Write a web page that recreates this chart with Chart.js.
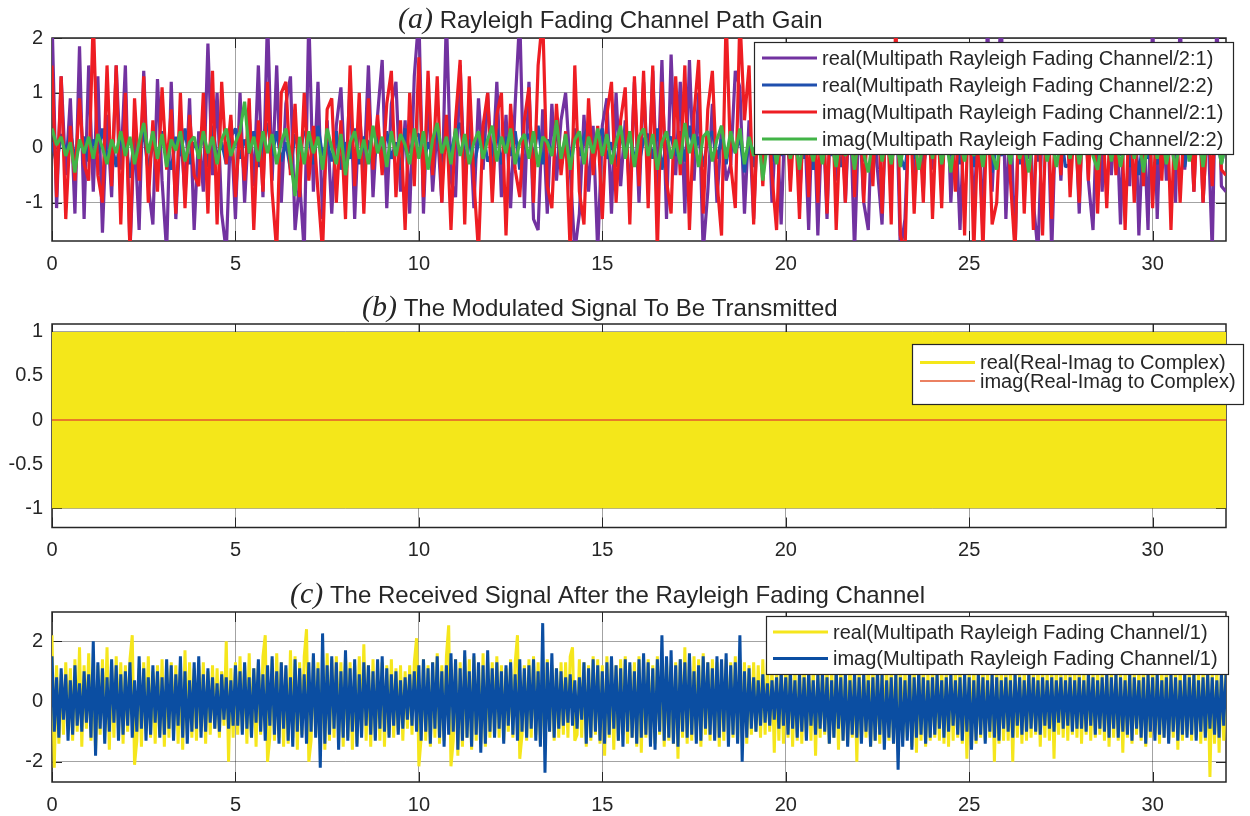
<!DOCTYPE html>
<html>
<head>
<meta charset="utf-8">
<title>Rayleigh fading channel signals</title>
<script src="https://cdn.jsdelivr.net/npm/chart.js@4.4.1/dist/chart.umd.min.js"></script>
<style>
  html, body { margin: 0; padding: 0; background: #ffffff; }
  #page { position: relative; width: 1250px; height: 816px; overflow: hidden; background: #ffffff; }
  canvas { position: absolute; left: 0; }
</style>
</head>
<body>
<div id="page">
  <canvas id="chartA" width="1250" height="272" style="top:0px"></canvas>
  <canvas id="chartB" width="1250" height="290" style="top:272px"></canvas>
  <canvas id="chartC" width="1250" height="254" style="top:562px"></canvas>
</div>
<script>
// ---------- shared axis values ----------
const xTicks = [0, 5, 10, 15, 20, 25, 30];
const xMax = 32;

// ---------- (a) channel path gains, one sample every 0.125 ----------
const stepA = 0.125;
const yTicksA = [-1, 0, 1, 2];
const realA1 = [ // real(.../2:1)
  2.4,-1.1,1.3,-0.5,0.9,-1.2,1.85,-1.3,
  1.5,-0.8,1.3,-1.55,0.6,-0.9,1.5,-0.4,
  1.5,-1.9,0.3,-1.5,1.4,-0.7,-1.4,1.25,
  -0.6,-1.9,1.2,-1.3,0.4,-0.9,0.9,-1.5,
  0.3,-0.8,1.9,-0.5,1.0,-1.2,-1.9,0.5,
  -1.3,1.0,-1.0,0.6,-0.7,1.5,-0.9,2.4,
  -0.6,1.5,-1.0,0.8,1.3,-1.5,-0.6,-1.9,
  2.4,-0.8,1.2,-1.3,0.5,-1.2,0.4,1.1,
  -0.7,1.2,-1.3,0.7,-0.5,1.5,-0.9,0.6,
  1.6,-1.1,0.8,1.2,-0.8,0.5,-1.2,1.3,
  2.4,-1.2,1.0,-0.8,0.4,-1.0,2.4,-0.6,
  -0.9,1.5,-0.7,0.6,-1.1,0.9,-0.4,1.0,
  -0.5,1.2,-0.9,0.6,-1.1,0.8,2.4,-1.1,
  1.2,-1.3,-1.5,0.7,-1.2,0.8,-0.6,0.5,
  1.0,-0.4,-1.9,-1.2,0.6,-0.8,0.4,-1.9,
  0.4,0.9,-1.2,1.0,-0.7,0.5,-0.9,1.2,
  -1.0,1.2,-0.6,1.4,-0.8,1.6,-1.3,1.7,
  -0.5,1.2,-1.2,1.6,-0.6,1.0,-1.9,-0.8,
  0.8,-1.0,0.4,-0.6,-0.3,1.4,1.1,-1.2,
  0.5,-1.3,0.9,-0.5,1.2,-1.0,0.6,-1.4,
  1.0,-0.6,1.3,-1.0,0.7,-1.5,1.1,-1.6,
  0.8,-1.3,1.2,-0.6,1.5,-1.0,0.9,-1.9,
  0.7,-1.0,-1.5,1.2,-0.4,-1.4,1.0,-0.6,
  1.3,-1.9,-1.3,0.9,-0.6,1.1,-0.8,1.4,
  -0.4,1.0,-0.7,1.5,-1.0,0.6,-1.5,0.8,
  1.2,-1.3,0.7,-1.6,2.4,-0.8,1.0,2.4,
  -1.3,0.8,-1.9,1.2,-0.5,1.0,-1.0,-1.9,
  0.6,1.1,-1.9,0.9,-0.6,1.3,-0.4,0.8,
  -1.2,1.4,-0.6,-1.5,1.0,-0.8,1.2,-0.5,
  0.9,-1.4,1.1,-0.7,1.5,-1.6,0.6,-1.5,
  2.4,-1.3,1.2,-0.6,0.8,-1.0,2.4,-0.4,
  1.0,-0.8,1.3,-1.0,0.6,-1.9,2.4,-0.7,
  -0.8
];
const realA2 = [ // real(.../2:2)
  0.1,-0.3,0.25,-0.1,0.3,-0.2,0.05,0.2,
  -0.25,0.15,-0.1,0.35,-0.2,0.1,-0.35,0.2,
  0.15,-0.55,0.2,-0.1,0.3,-0.45,0.1,-0.2,
  0.3,-0.1,-0.4,0.2,-0.15,0.35,-0.3,0.1,
  -0.1,0.25,-0.35,0.4,-0.2,0.1,-0.3,0.2,
  0.35,-0.2,0.15,-0.1,0.3,-0.35,0.2,0.45,
  -0.15,0.3,-0.25,0.1,-0.4,0.25,-0.1,0.3,
  0.2,-0.3,0.4,-0.15,0.1,-0.25,0.3,-0.4,
  0.1,-0.2,0.35,-0.3,0.2,0.1,-0.35,0.25,
  -0.15,0.3,-0.2,0.1,-0.4,0.35,-0.1,0.2,
  0.25,-0.3,0.1,-0.15,0.35,-0.25,0.2,-0.1,
  0.3,0.45,-0.2,0.15,-0.35,0.1,0.3,-0.25,
  -0.1,0.35,-0.3,0.2,-0.15,0.3,-0.4,0.1,
  0.25,-0.2,0.4,-0.3,0.15,-0.1,0.3,-0.35,
  0.1,-0.25,0.35,-0.15,0.2,0.4,-0.3,0.15,
  0.35,-0.2,0.1,-0.35,0.25,-0.1,0.3,-0.2,
  -0.3,0.15,0.25,-0.2,0.35,-0.4,0.1,0.2,
  -0.15,0.3,-0.25,0.4,-0.1,0.2,-0.35,0.15,
  0.3,-0.2,0.15,-0.3,0.25,-0.1,0.2,-0.45,
  0.15,-0.35,0.3,-0.1,0.2,-0.25,0.35,-0.15,
  0.2,-0.3,0.1,0.35,-0.2,0.25,-0.4,0.1,
  -0.25,0.3,-0.15,0.2,-0.35,0.1,0.3,-0.2,
  0.15,-0.25,0.35,-0.45,0.2,-0.1,0.3,-0.3,
  0.25,-0.15,-0.4,0.3,-0.2,0.15,-0.35,0.2,
  -0.1,0.3,-0.25,0.35,-0.15,0.2,-0.3,0.1,
  0.25,-0.35,0.15,-0.2,0.3,-0.45,0.1,-0.15,
  0.3,-0.1,0.2,-0.3,0.25,-0.2,0.35,-0.25,
  0.15,-0.2,0.3,-0.1,0.25,-0.35,-0.3,0.2,
  -0.2,0.35,-0.15,0.25,-0.3,0.1,0.2,-0.25,
  0.3,-0.15,0.2,-0.35,0.15,-0.5,0.25,-0.2,
  0.1,-0.3,0.35,-0.2,0.25,-0.15,0.3,-0.35,
  0.2,-0.25,0.15,-0.3,0.35,-0.1,0.2,-0.3,
  0.1
];
const imagA1 = [ // imag(.../2:1)
  1.5,-0.9,1.3,-1.3,0.4,-0.6,0.9,-0.3,
  -0.6,2.4,-0.5,-1.0,1.5,-0.7,1.5,-1.4,
  1.0,-1.9,0.9,-0.6,1.3,-1.0,0.5,-0.8,
  1.1,-0.4,0.7,-1.2,1.0,-1.1,0.6,-0.5,
  -0.7,1.0,-1.2,1.4,-1.4,1.2,-0.3,0.6,
  -0.9,0.4,-0.6,0.9,-1.5,0.5,-0.8,1.2,
  -0.8,-1.9,1.0,1.2,-0.5,0.8,-0.9,1.0,
  -0.6,0.4,-0.8,-1.9,0.7,0.9,-1.0,0.5,
  -1.3,1.5,-0.7,1.0,-1.2,0.9,-0.4,0.6,
  -0.5,0.8,1.4,-0.9,0.5,-1.5,1.0,-0.7,
  1.65,-0.9,1.4,-0.5,1.3,-1.0,0.6,-1.5,
  0.5,1.6,-1.4,1.3,-0.6,-1.9,0.4,1.0,
  -1.0,0.6,1.0,-1.6,0.8,-0.4,-0.9,0.5,
  1.1,-1.0,1.5,2.4,-0.7,-1.1,0.8,-0.5,
  0.3,-1.9,1.5,-0.8,-1.4,0.9,-0.5,0.4,
  -1.3,0.6,1.2,-1.0,0.5,1.1,-1.4,1.3,
  -0.7,1.4,-1.1,1.5,-1.9,1.2,-0.6,-1.2,
  1.3,-0.5,1.5,-1.5,0.6,1.6,-1.2,0.7,
  1.4,-0.6,-1.6,2.4,-0.3,-1.1,2.4,0.5,
  1.5,-1.4,0.8,-0.7,1.1,-0.5,-1.5,0.9,
  1.2,-0.8,0.7,-1.3,1.0,-0.9,1.3,-1.0,
  1.1,-1.2,1.4,-1.5,0.6,-1.0,1.5,-0.9,
  1.2,-1.0,0.8,-0.7,1.3,-1.2,1.0,-1.4,
  2.4,-1.6,-1.9,1.1,-1.2,0.6,-1.0,1.4,
  -1.3,0.8,-1.1,1.2,0.6,-0.8,1.0,-1.6,
  1.2,-1.9,0.5,-1.9,1.0,-1.4,-1.0,0.8,
  1.1,-0.6,-1.9,1.3,-1.2,0.7,-1.5,1.0,
  -1.6,1.2,-1.3,0.9,-0.5,1.4,-0.9,0.6,
  -1.0,1.1,-0.6,1.3,-1.2,0.8,-1.1,1.0,
  -0.5,1.2,-1.5,0.9,-1.0,1.1,-0.7,1.3,
  -1.1,0.8,-0.6,1.2,-1.5,0.9,-1.0,0.7,
  1.1,-0.8,1.0,-1.0,0.6,-0.7,1.2,-0.4,
  -0.5
];
const imagA2 = [ // imag(.../2:2)
  0.35,0.05,0.2,-0.15,0.1,-0.45,0.15,-0.1,
  0.2,-0.2,0.25,0.0,-0.3,0.15,-0.1,0.3,
  -0.15,0.2,-0.3,0.1,0.45,-0.1,0.3,-0.2,
  0.25,-0.35,0.15,-0.05,0.3,-0.25,0.1,0.2,
  -0.2,0.3,-0.1,0.2,-0.3,0.15,0.35,-0.15,
  0.1,0.3,0.84,-0.1,0.2,-0.25,0.3,-0.1,
  0.25,-0.3,0.1,0.35,-0.2,-0.88,0.2,-0.3,
  0.3,-0.1,0.2,-0.4,0.35,0.0,-0.3,0.25,
  -0.5,0.1,0.3,-0.2,0.15,-0.3,0.4,-0.1,
  0.2,-0.35,0.3,-0.15,0.25,0.05,-0.3,0.35,
  -0.2,0.3,-0.4,0.15,0.45,-0.1,0.2,-0.3,
  0.35,-0.15,0.25,-0.3,0.1,0.3,-0.2,0.15,
  0.4,-0.25,0.2,-0.1,0.35,-0.3,0.1,0.25,
  -0.2,0.3,-0.35,0.2,0.1,-0.15,0.5,-0.2,
  0.25,-0.4,0.15,0.3,-0.3,0.2,-0.1,0.35,
  -0.15,0.25,-0.3,0.1,0.4,-0.2,0.3,-0.35,
  0.2,0.35,-0.15,0.25,-0.4,0.1,0.3,-0.2,
  0.15,-0.3,0.45,-0.1,0.25,-0.35,0.2,0.3,
  -0.25,0.15,0.4,-0.2,0.3,-0.1,0.35,-0.3,
  0.2,-0.15,0.3,-0.6,0.1,0.25,-0.3,0.2,
  0.35,-0.2,0.15,-0.4,0.3,0.1,-0.25,0.2,
  -0.3,0.25,0.1,-0.35,0.3,-0.15,0.2,-0.4,
  0.3,-0.1,-0.45,0.2,0.35,-0.25,0.15,-0.3,
  0.2,-0.35,0.3,-0.1,0.25,-0.4,0.1,0.35,
  -0.2,0.3,-0.3,0.15,-0.45,0.25,0.1,-0.25,
  0.3,-0.15,0.2,-0.35,0.25,-0.1,-0.4,0.3,
  0.15,-0.3,0.35,-0.2,0.1,-0.45,0.25,-0.1,
  0.3,-0.25,0.2,-0.35,0.15,0.3,-0.2,0.25,
  -0.3,0.1,0.35,-0.15,-0.4,0.2,0.3,-0.25,
  0.2,-0.35,0.1,0.3,-0.2,0.25,-0.45,0.15,
  0.3,-0.2,0.25,-0.3,0.1,-0.4,0.2,0.35,
  -0.25,0.15,0.3,-0.35,0.2,-0.1,0.25,-0.3,
  0.1
];

// ---------- (b) modulated signal, one sample every 0.0625 ----------
const stepB = 0.0625;
const yTicksB = [-1, -0.5, 0, 0.5, 1];
const realB = [
  1,-1,1,-1,1,-1,1,-1,1,-1,1,-1,1,-1,1,-1,
  1,-1,1,-1,1,-1,1,-1,1,-1,1,-1,1,-1,1,-1,
  1,-1,1,-1,1,-1,1,-1,1,-1,1,-1,1,-1,1,-1,
  1,-1,1,-1,1,-1,1,-1,1,-1,1,-1,1,-1,1,-1,
  1,-1,1,-1,1,-1,1,-1,1,-1,1,-1,1,-1,1,-1,
  1,-1,1,-1,1,-1,1,-1,1,-1,1,-1,1,-1,1,-1,
  1,-1,1,-1,1,-1,1,-1,1,-1,1,-1,1,-1,1,-1,
  1,-1,1,-1,1,-1,1,-1,1,-1,1,-1,1,-1,1,-1,
  1,-1,1,-1,1,-1,1,-1,1,-1,1,-1,1,-1,1,-1,
  1,-1,1,-1,1,-1,1,-1,1,-1,1,-1,1,-1,1,-1,
  1,-1,1,-1,1,-1,1,-1,1,-1,1,-1,1,-1,1,-1,
  1,-1,1,-1,1,-1,1,-1,1,-1,1,-1,1,-1,1,-1,
  1,-1,1,-1,1,-1,1,-1,1,-1,1,-1,1,-1,1,-1,
  1,-1,1,-1,1,-1,1,-1,1,-1,1,-1,1,-1,1,-1,
  1,-1,1,-1,1,-1,1,-1,1,-1,1,-1,1,-1,1,-1,
  1,-1,1,-1,1,-1,1,-1,1,-1,1,-1,1,-1,1,-1,
  1,-1,1,-1,1,-1,1,-1,1,-1,1,-1,1,-1,1,-1,
  1,-1,1,-1,1,-1,1,-1,1,-1,1,-1,1,-1,1,-1,
  1,-1,1,-1,1,-1,1,-1,1,-1,1,-1,1,-1,1,-1,
  1,-1,1,-1,1,-1,1,-1,1,-1,1,-1,1,-1,1,-1,
  1,-1,1,-1,1,-1,1,-1,1,-1,1,-1,1,-1,1,-1,
  1,-1,1,-1,1,-1,1,-1,1,-1,1,-1,1,-1,1,-1,
  1,-1,1,-1,1,-1,1,-1,1,-1,1,-1,1,-1,1,-1,
  1,-1,1,-1,1,-1,1,-1,1,-1,1,-1,1,-1,1,-1,
  1,-1,1,-1,1,-1,1,-1,1,-1,1,-1,1,-1,1,-1,
  1,-1,1,-1,1,-1,1,-1,1,-1,1,-1,1,-1,1,-1,
  1,-1,1,-1,1,-1,1,-1,1,-1,1,-1,1,-1,1,-1,
  1,-1,1,-1,1,-1,1,-1,1,-1,1,-1,1,-1,1,-1,
  1,-1,1,-1,1,-1,1,-1,1,-1,1,-1,1,-1,1,-1,
  1,-1,1,-1,1,-1,1,-1,1,-1,1,-1,1,-1,1,-1,
  1,-1,1,-1,1,-1,1,-1,1,-1,1,-1,1,-1,1,-1,
  1,-1,1,-1,1,-1,1,-1,1,-1,1,-1,1,-1,1,-1,
  1
];
const imagBTime = [0, 32];
const imagB = [0, 0];

// ---------- (c) received signal, one sample every 0.0625 ----------
const stepC = 0.0625;
const yTicksC = [-2, 0, 2];
const realC = [
  2.2,-2.2,1.2,-1.4,0.9,-1.1,1.3,-0.8,1.1,-1.3,1.4,-1.0,1.8,-1.5,1.2,-0.9,
  1.6,-1.3,1.0,-1.6,1.2,-1.1,1.4,-1.0,1.8,-1.6,1.1,-1.2,1.5,-0.9,1.3,-1.4,
  1.2,-1.0,1.4,2.2,-2.1,-1.3,1.1,-1.5,1.3,-0.9,1.5,-1.2,1.0,-1.4,1.2,-1.1,
  1.4,-1.5,1.1,-1.2,1.3,-1.0,1.2,-1.4,1.0,-1.6,1.7,-1.1,1.3,-1.2,1.1,-1.3,
  1.2,-1.0,1.3,-1.4,1.0,-1.1,1.2,-0.9,1.1,-1.2,1.0,-0.8,2.0,-2.0,1.1,-1.2,
  1.3,-1.1,1.5,-1.0,1.2,-1.4,1.6,-1.2,1.1,-1.5,1.3,-1.1,1.5,2.2,-2.0,-1.2,
  1.4,-1.3,1.6,-1.2,1.3,-1.5,1.1,-1.4,1.7,-1.2,1.5,-1.6,1.3,-1.1,1.5,2.4,
  -2.0,-1.3,1.5,-1.1,1.3,-1.4,1.2,-1.6,1.6,-1.3,1.4,-1.2,1.5,-1.0,1.3,-1.5,
  1.5,-1.2,1.3,-1.6,1.2,-1.4,1.5,-1.1,1.9,-1.3,1.2,-1.5,1.4,-1.2,1.1,-1.3,
  1.3,-1.5,1.2,-1.1,1.4,-1.2,1.1,-1.0,1.2,-1.3,1.0,-0.9,1.2,-1.1,1.3,2.1,
  -2.15,-1.2,1.4,-1.3,1.2,-1.5,1.3,-1.2,1.6,-1.4,1.2,-1.3,1.5,2.53,-2.15,-1.3,
  1.4,-1.8,1.3,-1.5,1.5,-1.2,1.4,-1.6,1.5,-1.3,1.2,-1.4,1.6,-1.5,1.3,-1.2,
  1.3,-1.1,1.5,-1.2,1.2,-1.3,1.1,-1.0,1.4,-1.2,1.3,2.2,-1.9,-1.1,1.2,-1.3,
  1.4,-1.2,1.5,-1.1,1.3,-1.4,1.2,-1.5,1.4,-1.0,1.2,-1.3,1.1,-1.2,1.3,-1.1,
  1.3,-1.2,1.5,1.8,-1.3,-1.1,1.4,-1.2,1.3,-1.5,1.2,-1.3,1.5,-1.1,1.4,-1.4,
  1.2,-1.8,1.5,-1.2,1.3,-1.6,1.2,-1.3,1.4,-1.1,1.5,-1.4,1.2,-1.2,1.3,-1.5,
  1.5,-1.7,1.3,-1.2,1.4,-1.3,1.2,-1.4,1.5,-1.1,1.3,-1.5,1.4,-1.3,1.2,-1.4,
  1.3,-1.9,1.4,-1.2,1.8,-1.4,1.3,-1.3,1.5,-1.2,1.4,-1.5,1.6,-1.1,1.3,-1.3,
  1.4,-1.2,1.3,-1.5,1.2,-1.3,1.4,-1.1,1.3,-1.2,1.5,-1.3,1.4,-1.2,1.3,-1.4,
  1.2,-1.1,1.3,-1.0,1.2,-1.2,1.4,-1.1,1.3,-1.0,1.2,-1.7,1.1,-1.3,1.2,-1.4,
  1.3,-1.2,1.4,-1.5,1.1,-1.3,1.2,-1.4,1.3,-1.2,1.1,-1.3,1.2,-1.8,1.0,-1.2,
  1.3,-1.1,1.2,-1.4,1.1,-1.2,1.3,-1.6,1.2,-1.3,1.1,-1.4,1.3,-1.2,1.2,-2.0,
  1.2,-1.3,1.1,-1.2,1.4,-1.5,1.2,-1.3,1.1,-1.4,1.3,-1.2,1.2,-1.3,1.1,-1.4,
  1.3,-1.4,1.2,-1.3,1.1,-1.2,1.3,-1.5,1.2,-1.7,1.1,-1.3,1.2,-1.5,1.0,-1.3,
  1.2,-1.2,1.1,-1.3,1.2,-1.4,1.0,-1.5,1.2,-1.3,1.1,-1.2,1.2,-1.4,1.0,-1.9,
  1.1,-1.3,1.2,-1.4,1.1,-1.2,1.2,-1.3,1.0,-1.2,1.1,-2.0,1.2,-1.4,1.1,-1.3,
  1.2,-1.3,1.1,-2.0,1.2,-1.2,1.0,-1.4,1.1,-1.3,1.2,-1.2,1.0,-1.1,1.2,-1.5,
  1.1,-1.2,1.0,-1.3,1.1,-1.9,1.2,-1.1,1.0,-1.2,1.1,-1.3,1.0,-1.1,1.1,-1.2,
  1.2,-1.4,1.0,-1.1,1.1,-1.3,1.0,-1.2,1.1,-1.1,1.0,-1.3,1.2,-1.5,1.0,-1.2,
  1.1,-1.3,1.0,-1.7,1.1,-1.2,1.2,-1.4,1.0,-1.1,1.1,-1.3,1.2,-1.5,1.0,-1.2,
  1.2,-1.1,1.0,-1.4,1.1,-1.2,1.2,-1.3,1.0,-1.2,1.1,-1.6,1.2,-1.3,1.0,-1.1,
  1.1,-1.3,1.2,-1.2,1.0,-1.4,1.1,-1.3,1.2,-2.5,1.0,-1.4,1.1,-1.7,1.2,-1.3,
  1.0
];
const imagC = [
  1.5,-1.0,0.8,-1.2,1.1,-0.6,0.9,-1.3,0.7,-1.1,1.2,-0.8,0.6,-1.0,1.0,-0.7,
  0.9,-1.2,2.0,-1.8,1.3,-0.9,1.1,-1.4,0.8,-1.0,1.4,-0.7,1.2,-1.3,0.9,-1.1,
  1.0,-0.8,1.3,-1.2,0.7,-1.0,1.5,-0.9,1.1,-1.3,0.8,-1.1,1.2,-0.7,1.0,-1.2,
  0.8,-1.1,1.4,-0.9,1.2,-1.3,0.9,-0.8,1.5,-1.2,1.0,-1.4,0.7,-1.0,1.3,-0.9,
  1.5,-1.2,0.9,-1.0,1.1,-0.7,0.8,-0.9,0.6,-1.0,0.9,-0.6,0.8,-0.9,0.7,-0.8,
  1.2,-0.8,1.0,-1.1,1.3,-0.9,0.8,-1.2,1.1,-0.7,1.4,-1.0,0.9,-1.3,1.2,-0.8,
  1.5,-1.1,1.0,-1.4,1.3,-0.9,1.2,-1.3,0.8,-1.5,1.4,-1.0,1.1,-1.2,0.9,-1.4,
  1.3,-1.0,1.6,-1.2,1.1,-2.2,2.26,-1.4,1.2,-1.1,1.5,-0.9,1.3,-1.6,1.0,-1.2,
  1.7,-1.3,1.1,-1.0,1.4,-1.5,0.9,-1.2,1.3,-0.8,1.2,-1.1,1.0,-1.3,1.4,-0.9,
  1.5,-1.0,1.1,-1.2,0.9,-0.8,1.0,-1.1,0.7,-0.9,0.8,-0.6,0.9,-0.8,1.0,-1.0,
  1.2,-1.3,1.4,-1.0,1.1,-1.4,1.3,-0.9,1.5,-1.2,1.0,-1.5,1.2,-1.1,1.6,-1.0,
  1.4,-1.6,1.1,-1.3,1.7,-1.2,1.0,-1.5,1.6,-1.1,1.3,-1.7,1.2,-1.4,1.7,-1.0,
  1.1,-1.2,1.3,-0.9,1.0,-1.4,1.2,-0.8,1.3,-1.1,0.9,-1.3,1.4,-1.0,1.1,-1.2,
  1.2,-0.9,1.4,-1.3,1.0,-1.5,2.6,-2.36,1.3,-1.0,1.6,-1.2,1.1,-0.9,1.0,-0.8,
  0.8,-0.7,0.9,-0.8,0.7,-0.9,0.8,-0.6,1.3,-1.4,1.1,-1.2,1.4,-1.0,1.2,-1.3,
  1.0,-1.4,1.3,-1.1,1.5,-0.9,1.2,-1.3,1.1,-1.5,1.4,-1.0,1.3,-1.2,1.0,-1.4,
  1.4,-1.2,1.6,-1.1,1.3,-1.5,1.1,-1.6,1.4,-1.0,2.2,-1.3,1.5,-1.2,1.7,-1.4,
  1.2,-1.5,1.4,-1.0,1.3,-1.2,1.6,-1.1,1.0,-1.4,1.2,-1.3,1.5,-0.9,1.3,-1.1,
  1.1,-1.3,1.5,-1.2,1.4,-1.0,1.6,-1.5,1.2,-1.1,1.3,-1.4,2.2,-2.0,1.0,-1.2,
  1.1,-0.9,0.8,-1.0,0.7,-0.8,0.9,-0.7,0.6,-0.8,0.7,-0.6,0.8,-0.9,1.0,-0.8,
  0.8,-1.1,1.0,-0.9,0.7,-1.2,0.9,-1.0,0.8,-1.3,1.0,-0.8,0.7,-1.1,0.9,-0.9,
  0.9,-1.0,0.8,-1.4,0.7,-1.2,1.0,-0.9,0.8,-1.3,0.9,-1.5,0.7,-1.1,0.9,-1.2,
  0.8,-1.4,0.9,-1.0,0.7,-1.5,0.8,-1.3,1.0,-1.1,0.9,-1.6,0.7,-1.2,0.8,-1.4,
  0.9,-2.26,0.8,-1.5,0.7,-1.3,0.9,-1.6,0.8,-1.2,1.0,-1.1,0.8,-1.4,0.7,-1.2,
  0.8,-1.1,0.9,-0.9,0.7,-1.2,0.8,-1.0,0.9,-0.8,0.7,-1.1,0.8,-1.3,0.9,-1.0,
  0.8,-1.6,0.7,-1.3,0.9,-1.1,0.8,-1.4,0.7,-1.0,0.9,-1.2,0.8,-1.3,0.7,-0.9,
  0.8,-1.0,0.7,-1.2,0.9,-0.8,0.8,-1.1,0.7,-1.0,0.9,-0.9,0.8,-1.0,0.7,-1.1,
  0.8,-0.8,0.7,-0.9,0.8,-1.0,0.7,-0.7,0.8,-0.9,0.7,-0.8,0.8,-1.0,0.7,-0.9,
  0.8,-0.9,0.7,-1.0,0.9,-0.8,0.8,-1.1,0.7,-0.9,0.8,-1.0,0.9,-1.2,0.8,-0.9,
  0.9,-1.2,0.8,-1.0,0.7,-1.1,0.9,-1.3,0.8,-0.9,0.7,-1.2,0.8,-1.4,0.9,-1.0,
  0.8,-1.3,0.9,-1.1,0.7,-1.2,0.8,-1.4,0.9,-1.0,0.8,-1.3,0.7,-1.1,0.9,-1.2,
  0.8,-1.1,0.9,-1.3,0.7,-1.0,0.8,-1.2,0.9,-0.9,0.8,-1.1,0.7,-1.2,0.9,-0.8,
  0.9
];

// ---------- styling ----------
const SANS = '"Liberation Sans", Arial, Helvetica, sans-serif';
const SERIF = '"Liberation Serif", "Times New Roman", Times, serif';
const INK = '#262626';
const GRID = 'rgba(0,0,0,0.36)';

function series(values, step) {
  return values.map((v, i) => ({ x: i * step, y: v }));
}
function pairs(xs, ys) {
  return xs.map((x, i) => ({ x: x, y: ys[i] }));
}

// axes box with inward ticks, plus title and in-plot legend
const framePlugin = {
  id: 'frame',
  beforeDatasetsDraw(chart) {
    const { ctx, chartArea: a, scales } = chart;
    const len = 10;
    ctx.save();
    ctx.strokeStyle = INK;
    ctx.lineWidth = 1;
    ctx.beginPath();
    scales.x.ticks.forEach(t => {
      const p = Math.round(scales.x.getPixelForValue(t.value)) + 0.5;
      ctx.moveTo(p, a.bottom); ctx.lineTo(p, a.bottom - len);
      ctx.moveTo(p, a.top); ctx.lineTo(p, a.top + len);
    });
    scales.y.ticks.forEach(t => {
      const p = Math.round(scales.y.getPixelForValue(t.value)) + 0.5;
      ctx.moveTo(a.left, p); ctx.lineTo(a.left + len, p);
      ctx.moveTo(a.right, p); ctx.lineTo(a.right - len, p);
    });
    ctx.stroke();
    ctx.lineWidth = 1.5;
    ctx.strokeRect(a.left, a.top, a.right - a.left, a.bottom - a.top);
    ctx.restore();
  },
  afterDraw(chart, args, opts) {
    const ctx = chart.ctx;
    const dy = opts.offsetY;
    const t = opts.title;
    ctx.save();
    // title: italic panel tag followed by the caption
    ctx.fillStyle = INK;
    ctx.textAlign = 'left';
    ctx.textBaseline = 'alphabetic';
    ctx.font = 'italic 30px ' + SERIF;
    ctx.fillText(t.tag, t.x, t.baseline - dy);
    const tagW = ctx.measureText(t.tag).width;
    ctx.font = '24px ' + SANS;
    ctx.fillText(' ' + t.text, t.x + tagW, t.baseline - dy);
    // legend box
    const L = opts.legend;
    ctx.fillStyle = '#ffffff';
    ctx.fillRect(L.left, L.top - dy, L.right - L.left, L.bottom - L.top);
    ctx.strokeStyle = INK;
    ctx.lineWidth = 1.2;
    ctx.strokeRect(L.left + 0.5, L.top - dy + 0.5, L.right - L.left - 1, L.bottom - L.top - 1);
    ctx.font = '20px ' + SANS;
    ctx.textBaseline = 'middle';
    chart.data.datasets.forEach((d, i) => {
      const y = L.rows[i] - dy;
      ctx.strokeStyle = d.borderColor;
      ctx.lineWidth = d.legendWidth;
      ctx.beginPath();
      ctx.moveTo(L.x0, y);
      ctx.lineTo(L.x1, y);
      ctx.stroke();
      ctx.fillStyle = INK;
      ctx.fillText(d.label, L.textX, y + 1);
    });
    ctx.restore();
  }
};

function makeChart(id, cfg) {
  return new Chart(document.getElementById(id), {
    type: 'line',
    data: {
      datasets: cfg.datasets.map(d => ({
        label: d.label,
        data: d.data,
        borderColor: d.color,
        backgroundColor: d.color,
        borderWidth: d.width,
        legendWidth: d.legendWidth,
        order: d.order,
        pointRadius: 0,
        tension: 0,
        borderJoinStyle: 'bevel',
        borderCapStyle: 'butt',
        fill: false,
        clip: 0,
        parsing: false,
        normalized: true
      }))
    },
    options: {
      responsive: false,
      animation: false,
      devicePixelRatio: 1,
      events: [],
      layout: { padding: { left: 0, right: 24, top: cfg.padTop, bottom: 0 } },
      scales: {
        x: {
          type: 'linear', min: 0, max: xMax,
          afterBuildTicks: s => { s.ticks = xTicks.map(v => ({ value: v })); },
          afterFit: s => { s.height = cfg.xAxisH; },
          grid: { color: GRID, lineWidth: 1, drawTicks: false },
          border: { display: false },
          ticks: { padding: 11, autoSkip: false, maxRotation: 0, color: INK,
                   font: { family: SANS, size: 20 }, callback: v => String(v) }
        },
        y: {
          type: 'linear', min: cfg.yMin, max: cfg.yMax,
          afterBuildTicks: s => { s.ticks = cfg.yTicks.map(v => ({ value: v })); },
          afterFit: s => { s.width = 52; },
          grid: { color: GRID, lineWidth: 1, drawTicks: false },
          border: { display: false },
          ticks: { padding: 9, autoSkip: false, color: INK,
                   font: { family: SANS, size: 20 }, callback: v => String(v) }
        }
      },
      plugins: {
        legend: { display: false },
        tooltip: { enabled: false },
        frame: { offsetY: cfg.offsetY, title: cfg.title, legend: cfg.legend }
      }
    },
    plugins: [framePlugin]
  });
}

// (a)
makeChart('chartA', {
  offsetY: 0, padTop: 38, xAxisH: 31, yMin: -1.7, yMax: 2, yTicks: yTicksA,
  title: { tag: '(a)', text: 'Rayleigh Fading Channel Path Gain', x: 398, baseline: 28 },
  legend: { left: 754, top: 42, right: 1234, bottom: 155, rows: [58, 85, 112, 139],
            x0: 762, x1: 817, textX: 822 },
  datasets: [
    { label: 'real(Multipath Rayleigh Fading Channel/2:1)', data: series(realA1, stepA), color: '#7232a0', width: 3.2, legendWidth: 3, order: 4 },
    { label: 'real(Multipath Rayleigh Fading Channel/2:2)', data: series(realA2, stepA), color: '#1f4fae', width: 3.2, legendWidth: 3, order: 3 },
    { label: 'imag(Multipath Rayleigh Fading Channel/2:1)', data: series(imagA1, stepA), color: '#ee1d23', width: 3.2, legendWidth: 3, order: 2 },
    { label: 'imag(Multipath Rayleigh Fading Channel/2:2)', data: series(imagA2, stepA), color: '#42b447', width: 3.2, legendWidth: 3, order: 1 }
  ]
});

// (b)
makeChart('chartB', {
  offsetY: 272, padTop: 52, xAxisH: 34.5, yMin: -1.22, yMax: 1.09, yTicks: yTicksB,
  title: { tag: '(b)', text: 'The Modulated Signal To Be Transmitted', x: 362, baseline: 316 },
  legend: { left: 912, top: 344, right: 1244, bottom: 405, rows: [362.5, 381],
            x0: 920, x1: 975, textX: 980 },
  datasets: [
    { label: 'real(Real-Imag to Complex)', data: series(realB, stepB), color: '#f4e71a', width: 5, legendWidth: 3, order: 2 },
    { label: 'imag(Real-Imag to Complex)', data: pairs(imagBTime, imagB), color: '#e4572e', width: 1.5, legendWidth: 1.5, order: 1 }
  ]
});

// (c)
makeChart('chartC', {
  offsetY: 562, padTop: 50, xAxisH: 34, yMin: -2.67, yMax: 2.97, yTicks: yTicksC,
  title: { tag: '(c)', text: 'The Received Signal After the Rayleigh Fading Channel', x: 290, baseline: 603 },
  legend: { left: 766, top: 616, right: 1229, bottom: 675, rows: [632, 658.5],
            x0: 773, x1: 828, textX: 833 },
  datasets: [
    { label: 'real(Multipath Rayleigh Fading Channel/1)', data: series(realC, stepC), color: '#f5e61c', width: 3, legendWidth: 3, order: 2 },
    { label: 'imag(Multipath Rayleigh Fading Channel/1)', data: series(imagC, stepC), color: '#0b4ea2', width: 3, legendWidth: 3, order: 1 }
  ]
});
</script>
</body>
</html>
